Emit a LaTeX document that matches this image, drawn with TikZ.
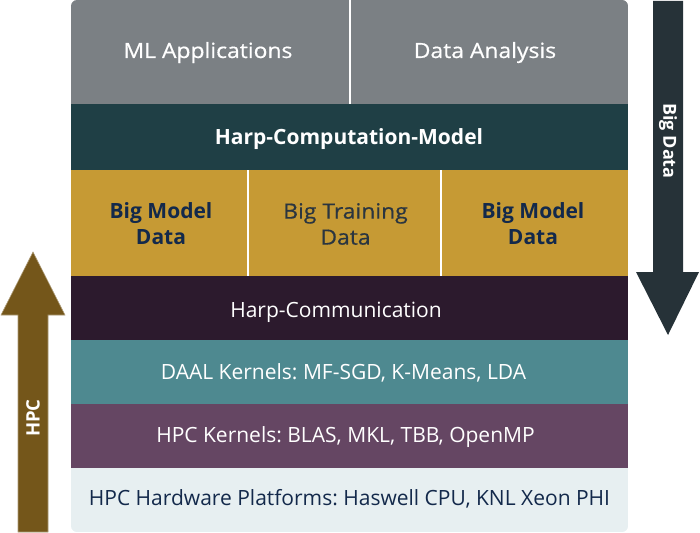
\documentclass[tikz,border=0pt]{standalone}
\usepackage{fontspec}
\setmainfont{Open Sans}
\newfontfamily\semib{Open Sans}[FakeBold=0.6, FakeStretch=1.09]
\frenchspacing
\begin{document}
\begin{tikzpicture}[x=1pt,y=-1pt,
  lbl/.style={font=\fontsize{21}{26}\selectfont, align=center, inner sep=0pt, anchor=base},
  sbl/.style={font=\semib\fontsize{21}{26}\selectfont, align=center, inner sep=0pt},
  bld/.style={font=\fontsize{21}{26}\selectfont\bfseries, align=center, inner sep=0pt},
  sep/.style={white, line width=2pt}]
\definecolor{cgray}{HTML}{7B8084}
\definecolor{cteal}{HTML}{1F3F45}
\definecolor{cgold}{HTML}{C69A34}
\definecolor{cplum}{HTML}{2C1A2D}
\definecolor{cblue}{HTML}{4E8990}
\definecolor{cpurp}{HTML}{654663}
\definecolor{clight}{HTML}{E7EFF1}
\definecolor{cnavy}{HTML}{13294B}
\definecolor{cdark}{HTML}{2A3540}
\definecolor{cbrown}{HTML}{74561A}
\definecolor{cslate}{HTML}{263238}
\useasboundingbox (0,0) rectangle (700,532);
\begin{scope}
\clip[rounded corners=6pt] (71,0) rectangle (628,532);
\fill[cgray]  (71,0)   rectangle (628,104);
\fill[cteal]  (71,104) rectangle (628,170);
\fill[cgold]  (71,170) rectangle (628,276);
\fill[cplum]  (71,276) rectangle (628,340);
\fill[cblue]  (71,340) rectangle (628,404);
\fill[cpurp]  (71,404) rectangle (628,468);
\fill[clight] (71,468) rectangle (628,532);
\end{scope}
\draw[sep] (350,0) -- (350,104);
\draw[sep] (248,170) -- (248,276);
\draw[sep] (441,170) -- (441,276);
\node[sbl, white, anchor=base] (ml) at (208,58) {ML Applications};
\node[sbl, white, anchor=base] (da) at (485,58) {Data Analysis};
\node[bld, white, anchor=base] (hcm) at (349,144) {Harp-Computation-Model};
\node[bld, cnavy] (bm1) at (161,224) {Big Model\\Data};
\node[sbl, cdark] (bt) at (345.5,224) {Big Training\\Data};
\node[bld, cnavy] (bm2) at (533,224) {Big Model\\Data};
\node[lbl, white] (hc) at (336,317) {Harp-Communication};
\node[lbl, white] (daal) at (343.5,379) {DAAL Kernels: MF-SGD, K-Means, LDA};
\node[lbl, white] (hpck) at (345.5,442) {HPC Kernels: BLAS, MKL, TBB, OpenMP};
\node[lbl, cnavy] (hw) at (349.5,505) {HPC Hardware Platforms: Haswell CPU, KNL Xeon PHI};
% HPC arrow
\fill[cbrown, draw=cbrown!60!white, line width=0.6pt]
  (18,532) -- (18,315) -- (1,315) -- (33,252) -- (65,315) -- (48,315) -- (48,532) -- cycle;
\node[white, rotate=90, inner sep=0pt, font=\fontsize{18.5}{20}\selectfont\bfseries] (hpc) at (33,418) {HPC};
% Big Data arrow
\fill[cslate] (653,1) -- (683,1) -- (683,272) -- (699,272) -- (668,335) -- (636,272) -- (653,272) -- cycle;
\node[white, rotate=-90, inner sep=0pt, font=\fontsize{18}{20}\selectfont\bfseries] (bd) at (668,141) {Big Data};
\end{tikzpicture}
\end{document}
